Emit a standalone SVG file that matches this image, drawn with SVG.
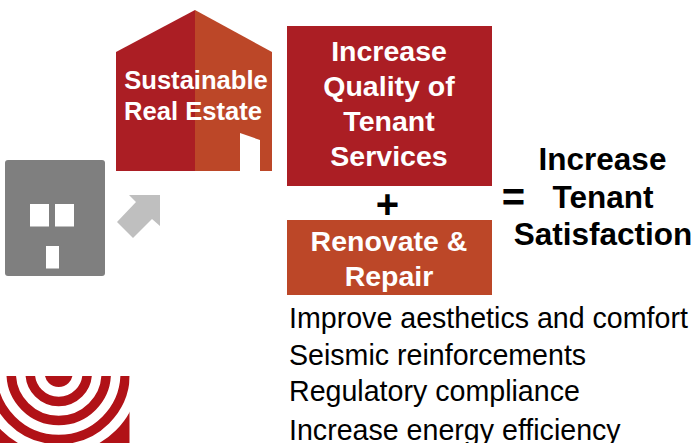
<svg xmlns="http://www.w3.org/2000/svg" width="694" height="443" viewBox="0 0 694 443">
<style>
text{font-family:"Liberation Sans",Arial,sans-serif}
.w{fill:#fff;font-weight:bold;text-anchor:middle}
.b{fill:#000;font-weight:bold;text-anchor:middle}
.t{fill:#000;font-size:28.600px}
.q{font-size:28.500px}
.s{font-size:31.500px}
.h{font-size:25.600px}
.o{font-size:40px}
.ring{fill:none;stroke:#B11217}
</style>
<defs><clipPath id="c"><rect x="0" y="376" width="129.500" height="67"/></clipPath></defs>
<rect width="694" height="443" fill="#fff"/>
<g id="building-icon">
<rect x="5" y="160" width="100" height="116" rx="3" fill="#7F7F7F"/>
<rect x="30" y="204" width="19" height="22.500" fill="#fff"/>
<rect x="55" y="204" width="19" height="22.500" fill="#fff"/>
<rect x="46" y="246" width="13" height="22.500" fill="#fff"/>
</g>
<g id="connectors">
<polygon points="129,195 160,195 160,226 152,219 133,238 117,222 136,202" fill="#BFBFBF"/>
</g>
<g id="house">
<polygon points="116,52 195,10 195,171 116,171" fill="#AB1E24"/>
<polygon points="195,10 272,52 272,171 195,171" fill="#BC4728"/>
<polygon points="240,133 260,140 260,171 240,171" fill="#fff"/>
<text class="w h" x="196" y="88.500">Sustainable</text>
<text class="w h" x="193" y="120">Real Estate</text>
</g>
<g id="quality">
<rect x="287" y="26" width="205" height="160" fill="#AB1E24"/>
<text class="w q" x="389" y="61">Increase</text>
<text class="w q" x="389" y="96">Quality of</text>
<text class="w q" x="389" y="131">Tenant</text>
<text class="w q" x="389" y="166">Services</text>
</g>
<g id="plus"><text class="b o" x="387.500" y="218">+</text></g>
<g id="renovate">
<rect x="287" y="220" width="205" height="75" fill="#BC4728"/>
<text class="w q" x="389" y="251">Renovate &amp;</text>
<text class="w q" x="389" y="286">Repair</text>
</g>
<g id="equals"><text class="b o" x="513.500" y="211">=</text></g>
<g id="satisfaction">
<text class="b s" x="602.500" y="170">Increase</text>
<text class="b s" x="603" y="208">Tenant</text>
<text class="b s" x="603" y="245">Satisfaction</text>
</g>
<g id="list">
<text class="t" x="289" y="328">Improve aesthetics and comfort</text>
<text class="t" x="289" y="365">Seismic reinforcements</text>
<text class="t" x="289" y="401">Regulatory compliance</text>
<text class="t" x="289" y="440">Increase energy efficiency</text>
</g>
<g id="target" clip-path="url(#c)">
<circle cx="58.700" cy="373" r="14" fill="#B11217"/>
<circle class="ring" cx="58.700" cy="373" r="28.500" stroke-width="9.500"/>
<circle class="ring" cx="58.700" cy="373" r="47.500" stroke-width="9.500"/>
<circle class="ring" cx="58.700" cy="373" r="66.500" stroke-width="9.500"/>
<circle class="ring" cx="58.700" cy="373" r="111" stroke-width="60"/>
</g>
</svg>
